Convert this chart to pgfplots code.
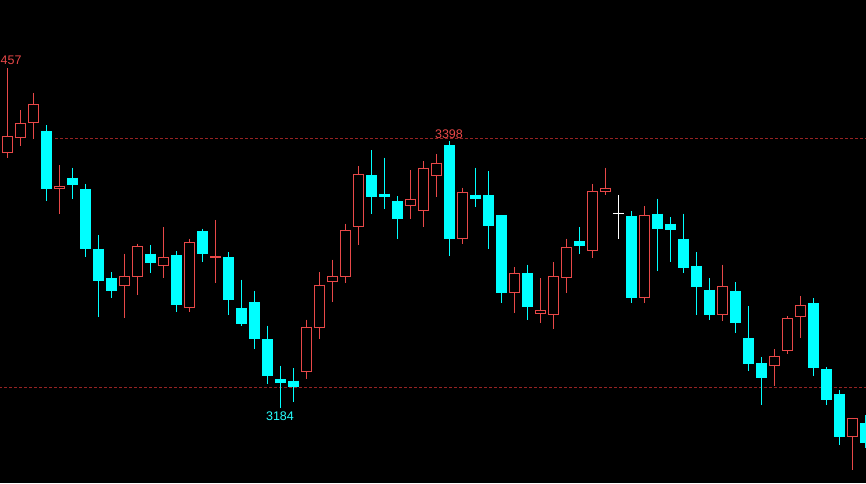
\documentclass[border=0pt]{standalone}
\usepackage{pgfplots}
\usepackage{pgfplotstable}
\usepackage{fontspec}
\setmainfont{Liberation Sans}
\pgfplotsset{compat=1.18}
\definecolor{candred}{RGB}{232,72,72}
\definecolor{candcyan}{RGB}{0,255,255}
\definecolor{dashred}{RGB}{150,35,35}

% up (red, hollow) candles: index open high low close
\pgfplotstableread{
i o h l c
0 3389 3457 3385 3402
1 3401 3423 3394 3413
2 3413 3437 3400 3428
4 3359.8 3379 3340 3362.2
9 3282 3308 3256 3290
10 3289 3316 3275 3314
12 3298 3329 3288 3305
14 3264 3320 3261 3317
16 3304.5 3335 3284 3306
23 3213 3255 3207 3249
24 3248 3293 3239 3283
25 3285 3303 3269 3290
26 3289 3332 3284 3327
27 3329 3378 3315 3372
31 3346 3375 3336 3352
32 3342 3382 3329 3377
33 3370 3388 3353 3381
35 3320 3361 3316 3357
39 3276 3297 3260 3292
41 3259.6 3288 3252 3262.4
42 3259 3301 3247 3290
43 3288 3320 3276 3313
45 3310 3364 3304 3358
46 3357 3377 3355 3361
49 3272 3346 3268 3339
55 3259 3299 3254 3282
59 3218 3231 3202 3226
60 3230 3258 3227 3256
61 3257 3274 3240 3267
65 3161 3176 3134 3176
}\up

% down (cyan, filled) candles
\pgfplotstableread{
i o h l c
3 3406 3411 3350 3360
5 3369 3377 3352 3363
6 3360 3364 3305 3312
7 3312 3323 3257 3286
8 3288 3293 3272 3278
11 3308 3315 3292 3300
13 3307 3310 3261 3267
15 3326 3328 3301 3308
17 3305 3309 3259 3271
18 3264 3287 3250 3251
19 3269 3278 3231 3239
20 3239 3250 3203 3210
21 3207 3218 3184 3204
22 3206 3216 3189 3201
28 3371 3391 3340 3353
29 3356 3385 3344 3353
30 3350 3354 3320 3336
34 3395 3398 3306 3320
36 3355 3377 3345 3352
37 3355 3374 3312 3330
38 3339 3339 3268 3276
40 3292 3299 3255 3265
44 3318 3329 3308 3314
48 3338 3342 3268 3272
50 3340 3352 3294 3328
51 3332 3337 3301 3327
52 3320 3340 3292 3296
53 3298 3309 3259 3281
54 3279 3288 3255 3259
56 3278 3285 3244 3252
57 3240 3266 3214 3219
58 3220 3225 3186 3208
62 3268 3272 3210 3216
63 3215 3217 3186 3190
64 3195 3198 3154 3161
66 3172 3178 3152 3156
}\down

% doji (white)
\pgfplotstableread{
i o h l c
47 3340 3355 3320 3340
}\doji

\begin{document}
\begin{tikzpicture}
\begin{axis}[
  width=866pt, height=483pt, scale only axis,
  hide axis,
  xmin=-0.5385, xmax=66.077,
  ymin=3123.7, ymax=3511.6,
  clip=true,
]
\fill[black] (rel axis cs:0,0) rectangle (rel axis cs:1,1);

% reference levels
\addplot[dashred, line width=1pt, dash pattern=on 3pt off 2pt, forget plot] coordinates {(3.7,3400) (66.2,3400)};
\addplot[dashred, line width=1pt, dash pattern=on 3pt off 2pt, forget plot] coordinates {(-0.6,3200) (66.2,3200)};

% wicks
\addplot[draw=none, mark=none, forget plot,
  error bars/.cd, y dir=minus, y explicit, error mark=none,
  error bar style={draw=candred, line width=1pt}]
  table[x=i, y=h, y error minus expr=\thisrow{h}-\thisrow{l}] {\up};
\addplot[draw=none, mark=none, forget plot,
  error bars/.cd, y dir=minus, y explicit, error mark=none,
  error bar style={draw=candcyan, line width=1pt}]
  table[x=i, y=h, y error minus expr=\thisrow{h}-\thisrow{l}] {\down};
\addplot[draw=none, mark=none, forget plot,
  error bars/.cd, y dir=minus, y explicit, error mark=none,
  error bar style={draw=white, line width=1pt}]
  table[x=i, y=h, y error minus expr=\thisrow{h}-\thisrow{l}] {\doji};

% bodies: red outline (outer red, inner black)
\addplot[draw=none, mark=none, forget plot,
  error bars/.cd, y dir=minus, y explicit, error mark=none,
  error bar style={draw=candred, line width=11pt, line cap=butt}]
  table[x=i, y=c, y error minus expr=\thisrow{c}-\thisrow{o}] {\up};
\addplot[draw=none, mark=none, forget plot,
  error bars/.cd, y dir=minus, y explicit, error mark=none,
  error bar style={draw=black, line width=9pt, line cap=butt}]
  table[x=i, y expr=\thisrow{c}-0.8032,
        y error minus expr={(\thisrow{c}-\thisrow{o}>1.7) ? (\thisrow{c}-\thisrow{o}-1.6064) : 0}] {\up};

% bodies: cyan filled
\addplot[draw=none, mark=none, forget plot,
  error bars/.cd, y dir=minus, y explicit, error mark=none,
  error bar style={draw=candcyan, line width=11pt, line cap=butt}]
  table[x=i, y=o, y error minus expr=\thisrow{o}-\thisrow{c}] {\down};

% doji body
\addplot[only marks, mark=-, mark size=5.5pt, mark options={draw=white, line width=1pt}, forget plot]
  table[x=i, y=o] {\doji};

% high / low labels
\node[text=candred, font=\fontsize{12.5}{14}\selectfont, inner sep=0pt, anchor=west] at (axis cs:-0.5,3463.4) {457};
\node[text=candred, font=\fontsize{12.5}{14}\selectfont, inner sep=0pt] at (axis cs:34,3404) {3398};
\node[text=candcyan!85!white, font=\fontsize{12.5}{14}\selectfont, inner sep=0pt] at (axis cs:21,3177.5) {3184};
\end{axis}
\pgfresetboundingbox
\useasboundingbox (current axis.south west) rectangle (current axis.north east);
\end{tikzpicture}
\end{document}
